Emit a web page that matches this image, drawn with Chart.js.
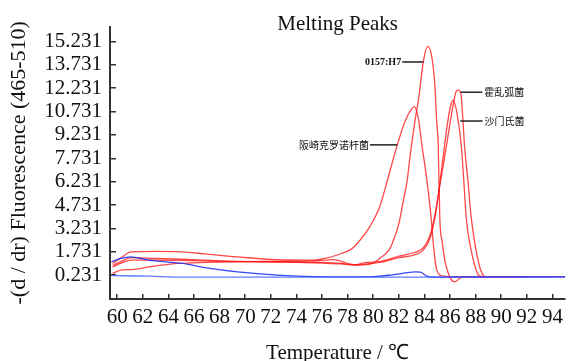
<!DOCTYPE html>
<html>
<head>
<meta charset="utf-8">
<script src="https://cdn.jsdelivr.net/npm/chart.js@4.4.0/dist/chart.umd.min.js"></script>
<style>
  html, body { margin: 0; padding: 0; background: #fff; }
</style>
</head>
<body>
<canvas id="meltingPeaks" width="574" height="361"></canvas>
<script>
// tick labels
const xTicks = [60, 62, 64, 66, 68, 70, 72, 74, 76, 78, 80, 82, 84, 86, 88, 90, 92, 94];
const yTicks = [0.231, 1.731, 3.231, 4.731, 6.231, 7.731, 9.231, 10.731, 12.231, 13.731, 15.231];

// 阪崎克罗诺杆菌
const tSakazakii = [59.65, 60.3, 61.1, 63, 64.7, 67, 69.4, 72.5, 75.3, 76.5, 77.5, 78.3, 79.0, 79.7, 80.5, 81.1, 81.88, 82.5, 83.0, 83.2, 83.54, 83.8, 84.05, 84.3, 84.52, 84.7, 84.95, 85.46, 86.5, 92];
const vSakazakii = [0.98, 1.35, 1.72, 1.76, 1.74, 1.58, 1.40, 1.22, 1.19, 1.35, 1.62, 1.9, 2.5, 3.3, 4.6, 6.29, 8.59, 10.12, 10.9, 11.05, 10.23, 8.6, 7.2, 5.6, 3.95, 2.2, 0.6, 0.17, 0.13, 0.13];

// 0157:H7
const tO157 = [59.65, 60.3, 61.2, 62.5, 64.7, 67, 70, 73, 75, 76.3, 76.9, 77.5, 78.15, 78.9, 79.5, 80.0, 80.5, 81.23, 81.6, 82.0, 82.35, 82.65, 82.9, 83.28, 83.54, 83.92, 84.25, 84.57, 84.82, 84.95, 85.08, 85.2, 85.4, 85.59, 85.98, 86.36, 86.88, 87.5, 92];
const vO157 = [0.34, 0.55, 0.59, 0.76, 0.98, 1.05, 1.1, 1.12, 1.15, 1.2, 1.23, 1.12, 0.95, 0.87, 0.9, 1.0, 1.3, 1.83, 2.5, 3.53, 5.0, 6.29, 8.0, 10.23, 11.51, 13.95, 14.91, 14.27, 12.36, 10.23, 8.53, 3.95, 2.3, 1.19, 0.12, -0.2, 0.08, 0.13, 0.13];

// 沙门氏菌
const tSalmonella = [59.65, 60.3, 61.1, 63, 65, 68, 71, 74, 76, 77.5, 78.5, 79.44, 80.5, 82.0, 83.28, 83.92, 84.44, 84.82, 85.2, 85.55, 85.85, 86.05, 86.23, 86.45, 86.62, 86.88, 87.1, 87.26, 87.65, 88.15, 88.5, 92];
const vSalmonella = [0.75, 1.0, 1.2, 1.2, 1.18, 1.12, 1.08, 1.05, 1.0, 0.95, 0.88, 0.95, 1.05, 1.35, 1.55, 1.85, 2.6, 3.9, 6.1, 8.4, 10.23, 11.1, 11.46, 11.0, 10.23, 8.53, 6.0, 3.95, 1.83, 0.34, 0.13, 0.13];

// 霍乱弧菌
const tVibrio = [59.65, 60.3, 61.1, 63, 65, 68, 71, 74, 76, 77.5, 78.5, 79.44, 80.5, 82.0, 83.28, 83.92, 84.44, 84.82, 85.25, 85.72, 86.05, 86.35, 86.5, 86.62, 86.75, 86.88, 87.0, 87.13, 87.4, 87.65, 88.03, 88.4, 88.8, 95];
const vVibrio = [0.85, 1.1, 1.35, 1.3, 1.25, 1.15, 1.1, 1.08, 1.05, 0.98, 0.9, 1.05, 1.1, 1.45, 1.7, 2.0, 2.8, 4.1, 6.2, 8.53, 10.23, 11.6, 12.05, 12.1, 12.05, 11.72, 10.3, 8.53, 6.3, 3.95, 1.83, 0.55, 0.13, 0.13];

// blue controls
const tBlue1 = [59.55, 60.3, 61.0, 62.5, 65.1, 67, 69.4, 72.5, 76.4, 80, 81.5, 83.28, 83.7, 84.2, 85, 95];
const vBlue1 = [1.08, 1.3, 1.40, 1.19, 0.98, 0.7, 0.44, 0.23, 0.12, 0.14, 0.25, 0.44, 0.42, 0.17, 0.1, 0.12];
const tBlue2 = [59.55, 62.5, 65, 95];
const vBlue2 = [0.2, 0.17, 0.1, 0.1];

// labels: text, leader start/end (T), value, side
const peakLabels = ["0157:H7", "霍乱弧菌", "沙门氏菌", "阪崎克罗诺杆菌"];
const labelT1 = [82.26, 86.82, 86.8, 79.75];
const labelT2 = [83.92, 88.52, 88.54, 81.88];
const labelV = [13.91, 11.97, 10.12, 8.59];
const labelSide = ["left", "right", "right", "left"];

const pts = (t, v) => t.map((x, i) => ({ x: x, y: v[i] }));

const serif = "'Liberation Serif', 'Times New Roman', serif";

const redLine = (label, t, v) => ({
    label: label,
    data: pts(t, v),
    borderColor: "rgba(255, 20, 20, 0.78)",
    borderWidth: 1.3,
    pointRadius: 0,
    cubicInterpolationMode: "monotone",
    fill: false
});

const labelPlugin = {
    id: "peakLabels",
    afterDatasetsDraw(chart) {
        const { ctx, scales: { x, y }, chartArea } = chart;
        ctx.save();
        ctx.fillStyle = "#111";
        ctx.textAlign = "center";
        ctx.textBaseline = "alphabetic";
        ctx.font = "21px " + serif;
        ctx.fillText("Melting Peaks", (chartArea.left + chartArea.right) / 2, 30);

        ctx.strokeStyle = "#222";
        ctx.lineWidth = 1.5;
        ctx.textBaseline = "middle";
        peakLabels.forEach((txt, i) => {
            const x1 = x.getPixelForValue(labelT1[i]);
            const x2 = x.getPixelForValue(labelT2[i]);
            const yy = y.getPixelForValue(labelV[i]);
            ctx.beginPath();
            ctx.moveTo(x1, yy);
            ctx.lineTo(x2, yy);
            ctx.stroke();
            ctx.font = i === 0 ? "bold 10px " + serif : "10px 'Noto Sans CJK SC', sans-serif";
            if (labelSide[i] === "left") {
                ctx.textAlign = "right";
                ctx.fillText(txt, x1 - 1, yy);
            } else {
                ctx.textAlign = "left";
                ctx.fillText(txt, x2 + 2, yy);
            }
        });
        ctx.restore();
    }
};

new Chart(document.getElementById("meltingPeaks"), {
    type: "line",
    data: {
        datasets: [
            {
                label: "blue2",
                data: pts(tBlue2, vBlue2),
                borderColor: "rgba(70, 100, 255, 0.85)",
                borderWidth: 1.3,
                pointRadius: 0,
                cubicInterpolationMode: "monotone"
            },
            {
                label: "blue1",
                data: pts(tBlue1, vBlue1),
                borderColor: "rgba(20, 40, 240, 0.85)",
                borderWidth: 1.3,
                pointRadius: 0,
                cubicInterpolationMode: "monotone"
            },
            redLine("阪崎克罗诺杆菌", tSakazakii, vSakazakii),
            redLine("0157:H7", tO157, vO157),
            redLine("沙门氏菌", tSalmonella, vSalmonella),
            redLine("霍乱弧菌", tVibrio, vVibrio)
        ]
    },
    options: {
        responsive: false,
        animation: false,
        devicePixelRatio: 1,
        layout: { padding: { top: 25, right: 2, left: 0, bottom: 0 } },
        plugins: {
            legend: { display: false },
            tooltip: { enabled: false }
        },
        scales: {
            x: {
                type: "linear",
                min: 59.44,
                max: 95,
                afterBuildTicks: (scale) => { scale.ticks = xTicks.map(v => ({ value: v })); },
                afterFit: (scale) => { scale.height = 62; },
                ticks: {
                    autoSkip: false,
                    maxRotation: 0,
                    padding: 11,
                    color: "#111",
                    font: { family: serif, size: 21 }
                },
                grid: { drawOnChartArea: false, tickLength: -5, color: "#333", lineWidth: 1.5 },
                border: { color: "#333", width: 2 },
                title: {
                    display: true,
                    text: "Temperature / ℃",
                    color: "#111",
                    font: { family: serif, size: 21 },
                    padding: { top: 0, bottom: -5 }
                }
            },
            y: {
                type: "linear",
                min: -1.30,
                max: 16.18,
                afterBuildTicks: (scale) => { scale.ticks = yTicks.map(v => ({ value: v })); },
                afterFit: (scale) => { scale.width = 110; },
                ticks: {
                    autoSkip: false,
                    padding: 14,
                    color: "#111",
                    font: { family: serif, size: 21 },
                    callback: (v) => v.toFixed(3)
                },
                grid: { drawOnChartArea: false, tickLength: -6, color: "#333", lineWidth: 1.5 },
                border: { color: "#333", width: 2 },
                title: {
                    display: true,
                    text: "-(d / dr) Fluorescence (465-510)",
                    color: "#111",
                    font: { family: serif, size: 22 },
                    padding: { top: 6, bottom: 0 }
                }
            }
        }
    },
    plugins: [labelPlugin]
});
</script>
</body>
</html>
